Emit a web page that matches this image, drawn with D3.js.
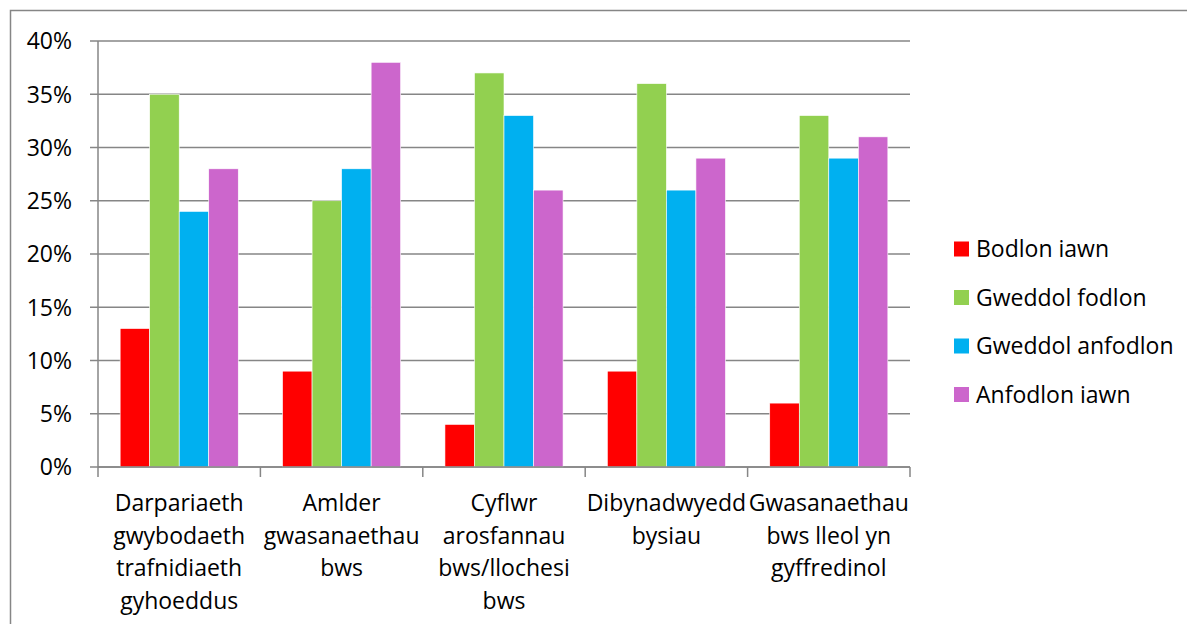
<!DOCTYPE html>
<html>
<head>
<meta charset="utf-8">
<script src="https://cdn.jsdelivr.net/npm/d3@7"></script>
<style>
  body { margin: 0; background: #fff; }
  text { font-family: "Open Sans", sans-serif; fill: #000; }
</style>
</head>
<body>
<div id="chart"></div>
<script>
// categories (wrapped the way the picture shows them)
var categories = ["Darpariaeth", "Amlder", "Cyflwr", "Dibynadwyedd", "Gwasanaethau"];
var categoryLines = [
  ["Darpariaeth", "gwybodaeth", "trafnidiaeth", "gyhoeddus"],
  ["Amlder", "gwasanaethau", "bws"],
  ["Cyflwr", "arosfannau", "bws/llochesi", "bws"],
  ["Dibynadwyedd", "bysiau"],
  ["Gwasanaethau", "bws lleol yn", "gyffredinol"]
];
var seriesNames = ["Bodlon iawn", "Gweddol fodlon", "Gweddol anfodlon", "Anfodlon iawn"];
var seriesColors = ["#FF0000", "#92D050", "#00B0F0", "#CC66CC"];
var bodlonIawn      = [13, 9, 4, 9, 6];
var gweddolFodlon   = [35, 25, 37, 36, 33];
var gweddolAnfodlon = [24, 28, 33, 26, 29];
var anfodlonIawn    = [28, 38, 26, 29, 31];
var yTicks = [0, 5, 10, 15, 20, 25, 30, 35, 40];

var allSeries = [bodlonIawn, gweddolFodlon, gweddolAnfodlon, anfodlonIawn];

var W = 1187, H = 624;
var plot = {left: 98, right: 910, top: 41, bottom: 467};

var svg = d3.select("#chart").append("svg")
  .attr("width", W).attr("height", H);

// outer chart border
svg.append("rect")
  .attr("x", 10.5).attr("y", 10.5)
  .attr("width", 1200).attr("height", 640)
  .attr("fill", "none").attr("stroke", "#868686").attr("stroke-width", 1.5);

var x0 = d3.scaleBand().domain(categories).range([plot.left, plot.right]);
// Excel gap width 150%: the 4 bars fill 4 of 5.5 bar widths
var x1 = d3.scaleBand().domain(seriesNames)
  .range([x0.bandwidth() * 0.75 / 5.5, x0.bandwidth() * 4.75 / 5.5]);
var y = d3.scaleLinear().domain([0, 40]).range([plot.bottom, plot.top]);

// gridlines
svg.append("g").selectAll("line").data(yTicks).join("line")
  .attr("x1", plot.left - 8).attr("x2", plot.right)
  .attr("y1", function(d) { return y(d); }).attr("y2", function(d) { return y(d); })
  .attr("stroke", "#868686").attr("stroke-width", 1.5);

// y axis line
svg.append("line")
  .attr("x1", plot.left).attr("x2", plot.left)
  .attr("y1", plot.top).attr("y2", plot.bottom)
  .attr("stroke", "#868686").attr("stroke-width", 1.5);

// y tick labels
svg.append("g").selectAll("text").data(yTicks).join("text")
  .attr("x", 72).attr("y", function(d) { return y(d); })
  .attr("dy", "0.36em")
  .attr("text-anchor", "end")
  .style("font-size", "23px")
  .text(function(d) { return d + "%"; });

// bars
var groups = svg.append("g").selectAll("g").data(categories).join("g")
  .attr("transform", function(d) { return "translate(" + x0(d) + ",0)"; });

groups.selectAll("rect")
  .data(function(c, i) { return seriesNames.map(function(s, j) { return {s: s, v: allSeries[j][i], c: seriesColors[j]}; }); })
  .join("rect")
    .attr("x", function(d) { return x1(d.s); })
    .attr("width", x1.bandwidth())
    .attr("y", function(d) { return y(d.v); })
    .attr("height", function(d) { return y(0) - y(d.v); })
    .attr("fill", function(d) { return d.c; })
    .attr("stroke", "#fff").attr("stroke-width", 0.6);

// x axis
svg.append("line")
  .attr("x1", plot.left).attr("x2", plot.right)
  .attr("y1", plot.bottom).attr("y2", plot.bottom)
  .attr("stroke", "#868686").attr("stroke-width", 1.5);
var xTickPos = categories.map(function(c) { return x0(c); }).concat([plot.right]);
svg.append("g").selectAll("line").data(xTickPos).join("line")
  .attr("x1", function(d) { return d; }).attr("x2", function(d) { return d; })
  .attr("y1", plot.bottom).attr("y2", plot.bottom + 10)
  .attr("stroke", "#868686").attr("stroke-width", 1.5);

// category labels
svg.append("g").selectAll("text").data(categories).join("text")
  .attr("text-anchor", "middle")
  .style("font-size", "23px")
  .each(function(c, i) {
    var t = d3.select(this);
    categoryLines[i].forEach(function(line, k) {
      t.append("tspan")
        .attr("x", x0(c) + x0.bandwidth() / 2)
        .attr("y", 511 + k * 32.5)
        .text(line);
    });
  });

// legend
var legend = svg.append("g").selectAll("g").data(seriesNames).join("g")
  .attr("transform", function(d, i) { return "translate(954," + (249 + i * 48.5) + ")"; });
legend.append("rect")
  .attr("x", 0).attr("y", -7.5).attr("width", 15).attr("height", 15)
  .attr("fill", function(d, i) { return seriesColors[i]; });
legend.append("text")
  .attr("x", 22).attr("y", 0).attr("dy", "0.36em")
  .style("font-size", "23px")
  .text(function(d) { return d; });
</script>
</body>
</html>
